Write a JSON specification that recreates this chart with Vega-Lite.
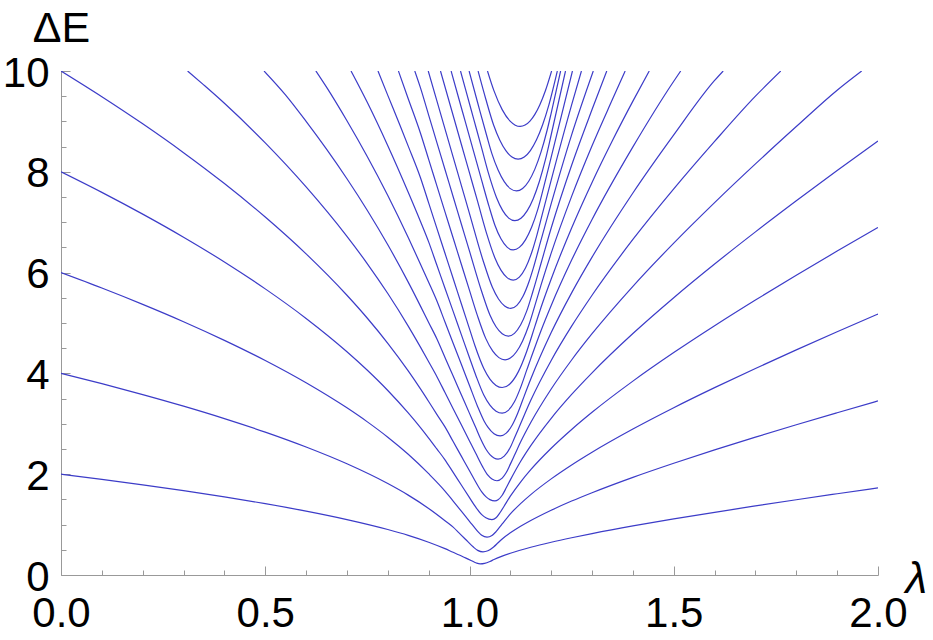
{
"$schema": "https://vega.github.io/schema/vega-lite/v6.json",
"width": 817, "height": 504,
"autosize": {"type": "none"},
"padding": {"left": 61, "top": 71, "right": 55, "bottom": 65},
"background": "white",
"config": {"view": {"stroke": null}},
"data": {"values": [
{"c":1,"x":0,"y":2},{"c":1,"x":0.1,"y":1.898},{"c":1,"x":0.2,"y":1.789},{"c":1,"x":0.3,"y":1.674},{"c":1,"x":0.4,"y":1.551},{"c":1,"x":0.5,"y":1.416},{"c":1,"x":0.6,"y":1.268},{"c":1,"x":0.7,"y":1.1},{"c":1,"x":0.8,"y":0.903},{"c":1,"x":0.85,"y":0.787},{"c":1,"x":0.9,"y":0.651},{"c":1,"x":0.94,"y":0.523},{"c":1,"x":0.96,"y":0.45},{"c":1,"x":0.975,"y":0.397},{"c":1,"x":0.99,"y":0.34},{"c":1,"x":1.005,"y":0.283},{"c":1,"x":1.017,"y":0.237},{"c":1,"x":1.026,"y":0.22},{"c":1,"x":1.037,"y":0.23},{"c":1,"x":1.05,"y":0.268},{"c":1,"x":1.06,"y":0.307},{"c":1,"x":1.08,"y":0.374},{"c":1,"x":1.1,"y":0.431},{"c":1,"x":1.15,"y":0.55},{"c":1,"x":1.2,"y":0.65},{"c":1,"x":1.25,"y":0.739},{"c":1,"x":1.3,"y":0.821},{"c":1,"x":1.4,"y":0.973},{"c":1,"x":1.5,"y":1.112},{"c":1,"x":1.6,"y":1.244},{"c":1,"x":1.7,"y":1.37},{"c":1,"x":1.8,"y":1.493},{"c":1,"x":1.9,"y":1.612},{"c":1,"x":2,"y":1.729},
{"c":2,"x":0,"y":4},{"c":2,"x":0.1,"y":3.796},{"c":2,"x":0.2,"y":3.58},{"c":2,"x":0.3,"y":3.35},{"c":2,"x":0.4,"y":3.103},{"c":2,"x":0.5,"y":2.835},{"c":2,"x":0.6,"y":2.539},{"c":2,"x":0.7,"y":2.206},{"c":2,"x":0.8,"y":1.814},{"c":2,"x":0.85,"y":1.585},{"c":2,"x":0.9,"y":1.321},{"c":2,"x":0.94,"y":1.078},{"c":2,"x":0.96,"y":0.95},{"c":2,"x":0.975,"y":0.83},{"c":2,"x":0.99,"y":0.71},{"c":2,"x":1.0095,"y":0.554},{"c":2,"x":1.02,"y":0.489},{"c":2,"x":1.033,"y":0.46},{"c":2,"x":1.045,"y":0.48},{"c":2,"x":1.059,"y":0.557},{"c":2,"x":1.07,"y":0.64},{"c":2,"x":1.08,"y":0.715},{"c":2,"x":1.1,"y":0.836},{"c":2,"x":1.125,"y":0.966},{"c":2,"x":1.15,"y":1.081},{"c":2,"x":1.2,"y":1.285},{"c":2,"x":1.25,"y":1.467},{"c":2,"x":1.3,"y":1.633},{"c":2,"x":1.4,"y":1.938},{"c":2,"x":1.5,"y":2.218},{"c":2,"x":1.6,"y":2.483},{"c":2,"x":1.7,"y":2.736},{"c":2,"x":1.8,"y":2.982},{"c":2,"x":1.9,"y":3.22},{"c":2,"x":2,"y":3.454},
{"c":3,"x":0,"y":6},{"c":3,"x":0.1,"y":5.694},{"c":3,"x":0.2,"y":5.37},{"c":3,"x":0.3,"y":5.026},{"c":3,"x":0.4,"y":4.656},{"c":3,"x":0.5,"y":4.256},{"c":3,"x":0.6,"y":3.814},{"c":3,"x":0.7,"y":3.316},{"c":3,"x":0.75,"y":3.038},{"c":3,"x":0.8,"y":2.734},{"c":3,"x":0.85,"y":2.395},{"c":3,"x":0.9,"y":2.01},{"c":3,"x":0.94,"y":1.666},{"c":3,"x":0.96,"y":1.466},{"c":3,"x":0.98,"y":1.266},{"c":3,"x":1,"y":1.066},{"c":3,"x":1.02,"y":0.866},{"c":3,"x":1.03,"y":0.787},{"c":3,"x":1.043,"y":0.75},{"c":3,"x":1.055,"y":0.784},{"c":3,"x":1.065,"y":0.86},{"c":3,"x":1.08,"y":1.013},{"c":3,"x":1.1,"y":1.213},{"c":3,"x":1.125,"y":1.416},{"c":3,"x":1.15,"y":1.595},{"c":3,"x":1.2,"y":1.907},{"c":3,"x":1.25,"y":2.183},{"c":3,"x":1.3,"y":2.436},{"c":3,"x":1.4,"y":2.896},{"c":3,"x":1.5,"y":3.319},{"c":3,"x":1.6,"y":3.717},{"c":3,"x":1.7,"y":4.098},{"c":3,"x":1.8,"y":4.467},{"c":3,"x":1.9,"y":4.825},{"c":3,"x":2,"y":5.177},
{"c":4,"x":0,"y":8},{"c":4,"x":0.1,"y":7.592},{"c":4,"x":0.2,"y":7.16},{"c":4,"x":0.3,"y":6.702},{"c":4,"x":0.4,"y":6.211},{"c":4,"x":0.5,"y":5.677},{"c":4,"x":0.6,"y":5.091},{"c":4,"x":0.7,"y":4.43},{"c":4,"x":0.75,"y":4.062},{"c":4,"x":0.8,"y":3.661},{"c":4,"x":0.85,"y":3.216},{"c":4,"x":0.88,"y":2.924},{"c":4,"x":0.9,"y":2.717},{"c":4,"x":0.92,"y":2.502},{"c":4,"x":0.94,"y":2.285},{"c":4,"x":0.96,"y":2.035},{"c":4,"x":0.98,"y":1.785},{"c":4,"x":1,"y":1.535},{"c":4,"x":1.015,"y":1.35},{"c":4,"x":1.03,"y":1.197},{"c":4,"x":1.04,"y":1.135},{"c":4,"x":1.055,"y":1.1},{"c":4,"x":1.065,"y":1.135},{"c":4,"x":1.075,"y":1.24},{"c":4,"x":1.085,"y":1.37},{"c":4,"x":1.1,"y":1.564},{"c":4,"x":1.125,"y":1.845},{"c":4,"x":1.15,"y":2.09},{"c":4,"x":1.2,"y":2.515},{"c":4,"x":1.25,"y":2.888},{"c":4,"x":1.3,"y":3.229},{"c":4,"x":1.4,"y":3.847},{"c":4,"x":1.5,"y":4.413},{"c":4,"x":1.6,"y":4.946},{"c":4,"x":1.7,"y":5.456},{"c":4,"x":1.8,"y":5.948},{"c":4,"x":1.9,"y":6.427},{"c":4,"x":2,"y":6.896},
{"c":5,"x":0,"y":10},{"c":5,"x":0.1,"y":9.49},{"c":5,"x":0.2,"y":8.952},{"c":5,"x":0.3,"y":8.38},{"c":5,"x":0.4,"y":7.767},{"c":5,"x":0.5,"y":7.102},{"c":5,"x":0.6,"y":6.371},{"c":5,"x":0.7,"y":5.55},{"c":5,"x":0.75,"y":5.094},{"c":5,"x":0.8,"y":4.597},{"c":5,"x":0.85,"y":4.05},{"c":5,"x":0.88,"y":3.693},{"c":5,"x":0.9,"y":3.443},{"c":5,"x":0.92,"y":3.187},{"c":5,"x":0.94,"y":2.938},{"c":5,"x":0.96,"y":2.648},{"c":5,"x":0.98,"y":2.358},{"c":5,"x":1,"y":2.068},{"c":5,"x":1.0205,"y":1.771},{"c":5,"x":1.03,"y":1.649},{"c":5,"x":1.04,"y":1.555},{"c":5,"x":1.05,"y":1.495},{"c":5,"x":1.062,"y":1.47},{"c":5,"x":1.07,"y":1.492},{"c":5,"x":1.08,"y":1.583},{"c":5,"x":1.09,"y":1.73},{"c":5,"x":1.1,"y":1.887},{"c":5,"x":1.125,"y":2.252},{"c":5,"x":1.15,"y":2.567},{"c":5,"x":1.2,"y":3.11},{"c":5,"x":1.25,"y":3.583},{"c":5,"x":1.3,"y":4.012},{"c":5,"x":1.4,"y":4.791},{"c":5,"x":1.5,"y":5.502},{"c":5,"x":1.6,"y":6.17},{"c":5,"x":1.7,"y":6.808},{"c":5,"x":1.8,"y":7.425},{"c":5,"x":1.9,"y":8.025},{"c":5,"x":2,"y":8.612},
{"c":6,"x":0.31,"y":10},{"c":6,"x":0.35,"y":9.72},{"c":6,"x":0.4,"y":9.36},{"c":6,"x":0.5,"y":8.573},{"c":6,"x":0.6,"y":7.699},{"c":6,"x":0.7,"y":6.718},{"c":6,"x":0.75,"y":6.175},{"c":6,"x":0.8,"y":5.585},{"c":6,"x":0.85,"y":4.939},{"c":6,"x":0.88,"y":4.521},{"c":6,"x":0.9,"y":4.232},{"c":6,"x":0.92,"y":3.94},{"c":6,"x":0.94,"y":3.62},{"c":6,"x":0.96,"y":3.3},{"c":6,"x":0.98,"y":2.98},{"c":6,"x":1,"y":2.66},{"c":6,"x":1.015,"y":2.42},{"c":6,"x":1.032,"y":2.15},{"c":6,"x":1.045,"y":1.98},{"c":6,"x":1.055,"y":1.903},{"c":6,"x":1.067,"y":1.87},{"c":6,"x":1.08,"y":1.922},{"c":6,"x":1.09,"y":2.033},{"c":6,"x":1.1,"y":2.2},{"c":6,"x":1.11,"y":2.374},{"c":6,"x":1.125,"y":2.637},{"c":6,"x":1.15,"y":3.025},{"c":6,"x":1.2,"y":3.69},{"c":6,"x":1.25,"y":4.266},{"c":6,"x":1.3,"y":4.787},{"c":6,"x":1.4,"y":5.728},{"c":6,"x":1.5,"y":6.585},{"c":6,"x":1.6,"y":7.389},{"c":6,"x":1.7,"y":8.157},{"c":6,"x":1.8,"y":8.898},{"c":6,"x":1.9,"y":9.619},{"c":6,"x":1.96,"y":10},
{"c":7,"x":0.497,"y":10},{"c":7,"x":0.55,"y":9.521},{"c":7,"x":0.6,"y":9.0},{"c":7,"x":0.65,"y":8.449},{"c":7,"x":0.7,"y":7.862},{"c":7,"x":0.75,"y":7.233},{"c":7,"x":0.8,"y":6.552},{"c":7,"x":0.85,"y":5.811},{"c":7,"x":0.88,"y":5.335},{"c":7,"x":0.9,"y":5.01},{"c":7,"x":0.92,"y":4.688},{"c":7,"x":0.94,"y":4.317},{"c":7,"x":0.96,"y":3.947},{"c":7,"x":0.98,"y":3.577},{"c":7,"x":1,"y":3.207},{"c":7,"x":1.015,"y":2.93},{"c":7,"x":1.028,"y":2.687},{"c":7,"x":1.04,"y":2.499},{"c":7,"x":1.05,"y":2.388},{"c":7,"x":1.06,"y":2.322},{"c":7,"x":1.07,"y":2.3},{"c":7,"x":1.085,"y":2.359},{"c":7,"x":1.1,"y":2.535},{"c":7,"x":1.11,"y":2.717},{"c":7,"x":1.125,"y":3.0},{"c":7,"x":1.15,"y":3.466},{"c":7,"x":1.2,"y":4.257},{"c":7,"x":1.25,"y":4.937},{"c":7,"x":1.3,"y":5.551},{"c":7,"x":1.4,"y":6.657},{"c":7,"x":1.5,"y":7.661},{"c":7,"x":1.6,"y":8.603},{"c":7,"x":1.7,"y":9.501},{"c":7,"x":1.762,"y":10},
{"c":8,"x":0.624,"y":10},{"c":8,"x":0.65,"y":9.68},{"c":8,"x":0.7,"y":9.013},{"c":8,"x":0.75,"y":8.3},{"c":8,"x":0.8,"y":7.53},{"c":8,"x":0.85,"y":6.696},{"c":8,"x":0.88,"y":6.167},{"c":8,"x":0.9,"y":5.808},{"c":8,"x":0.92,"y":5.44},{"c":8,"x":0.94,"y":5.02},{"c":8,"x":0.96,"y":4.6},{"c":8,"x":0.98,"y":4.18},{"c":8,"x":1,"y":3.76},{"c":8,"x":1.02,"y":3.34},{"c":8,"x":1.035,"y":3.067},{"c":8,"x":1.045,"y":2.933},{"c":8,"x":1.06,"y":2.803},{"c":8,"x":1.075,"y":2.76},{"c":8,"x":1.09,"y":2.815},{"c":8,"x":1.105,"y":2.982},{"c":8,"x":1.118,"y":3.21},{"c":8,"x":1.13,"y":3.467},{"c":8,"x":1.15,"y":3.888},{"c":8,"x":1.2,"y":4.81},{"c":8,"x":1.25,"y":5.598},{"c":8,"x":1.3,"y":6.307},{"c":8,"x":1.4,"y":7.579},{"c":8,"x":1.5,"y":8.732},{"c":8,"x":1.6,"y":9.812},{"c":8,"x":1.621,"y":10},
{"c":9,"x":0.71,"y":10},{"c":9,"x":0.75,"y":9.374},{"c":9,"x":0.8,"y":8.518},{"c":9,"x":0.85,"y":7.595},{"c":9,"x":0.88,"y":7.015},{"c":9,"x":0.9,"y":6.61},{"c":9,"x":0.92,"y":6.15},{"c":9,"x":0.94,"y":5.69},{"c":9,"x":0.96,"y":5.23},{"c":9,"x":0.98,"y":4.77},{"c":9,"x":1,"y":4.31},{"c":9,"x":1.016,"y":3.95},{"c":9,"x":1.035,"y":3.572},{"c":9,"x":1.05,"y":3.371},{"c":9,"x":1.065,"y":3.25},{"c":9,"x":1.08,"y":3.21},{"c":9,"x":1.095,"y":3.266},{"c":9,"x":1.11,"y":3.436},{"c":9,"x":1.125,"y":3.718},{"c":9,"x":1.14,"y":4.064},{"c":9,"x":1.15,"y":4.293},{"c":9,"x":1.175,"y":4.848},{"c":9,"x":1.2,"y":5.349},{"c":9,"x":1.25,"y":6.248},{"c":9,"x":1.3,"y":7.053},{"c":9,"x":1.4,"y":8.494},{"c":9,"x":1.5,"y":9.797},{"c":9,"x":1.517,"y":10},
{"c":10,"x":0.776,"y":10},{"c":10,"x":0.8,"y":9.516},{"c":10,"x":0.83,"y":8.919},{"c":10,"x":0.85,"y":8.509},{"c":10,"x":0.88,"y":7.882},{"c":10,"x":0.9,"y":7.383},{"c":10,"x":0.92,"y":6.883},{"c":10,"x":0.94,"y":6.383},{"c":10,"x":0.96,"y":5.883},{"c":10,"x":0.98,"y":5.383},{"c":10,"x":1,"y":4.883},{"c":10,"x":1.013,"y":4.558},{"c":10,"x":1.035,"y":4.098},{"c":10,"x":1.05,"y":3.888},{"c":10,"x":1.065,"y":3.762},{"c":10,"x":1.08,"y":3.72},{"c":10,"x":1.1,"y":3.8},{"c":10,"x":1.12,"y":4.04},{"c":10,"x":1.14,"y":4.435},{"c":10,"x":1.16,"y":4.933},{"c":10,"x":1.175,"y":5.308},{"c":10,"x":1.2,"y":5.874},{"c":10,"x":1.25,"y":6.886},{"c":10,"x":1.3,"y":7.79},{"c":10,"x":1.35,"y":8.621},{"c":10,"x":1.4,"y":9.402},{"c":10,"x":1.44,"y":10},
{"c":11,"x":0.826,"y":10},{"c":11,"x":0.85,"y":9.45},{"c":11,"x":0.88,"y":8.765},{"c":11,"x":0.9,"y":8.246},{"c":11,"x":0.92,"y":7.726},{"c":11,"x":0.94,"y":7.206},{"c":11,"x":0.96,"y":6.686},{"c":11,"x":0.98,"y":6.166},{"c":11,"x":1,"y":5.646},{"c":11,"x":1.019,"y":5.157},{"c":11,"x":1.04,"y":4.69},{"c":11,"x":1.057,"y":4.441},{"c":11,"x":1.072,"y":4.313},{"c":11,"x":1.087,"y":4.27},{"c":11,"x":1.1,"y":4.304},{"c":11,"x":1.115,"y":4.43},{"c":11,"x":1.13,"y":4.645},{"c":11,"x":1.145,"y":4.95},{"c":11,"x":1.16,"y":5.344},{"c":11,"x":1.175,"y":5.75},{"c":11,"x":1.2,"y":6.386},{"c":11,"x":1.25,"y":7.513},{"c":11,"x":1.3,"y":8.517},{"c":11,"x":1.35,"y":9.438},{"c":11,"x":1.381,"y":10},
{"c":12,"x":0.866,"y":10},{"c":12,"x":0.88,"y":9.665},{"c":12,"x":0.9,"y":9.125},{"c":12,"x":0.92,"y":8.585},{"c":12,"x":0.94,"y":8.045},{"c":12,"x":0.96,"y":7.505},{"c":12,"x":0.98,"y":6.965},{"c":12,"x":1,"y":6.425},{"c":12,"x":1.03,"y":5.62},{"c":12,"x":1.05,"y":5.159},{"c":12,"x":1.065,"y":4.926},{"c":12,"x":1.08,"y":4.787},{"c":12,"x":1.095,"y":4.74},{"c":12,"x":1.11,"y":4.795},{"c":12,"x":1.125,"y":4.96},{"c":12,"x":1.14,"y":5.236},{"c":12,"x":1.155,"y":5.62},{"c":12,"x":1.175,"y":6.18},{"c":12,"x":1.2,"y":6.884},{"c":12,"x":1.25,"y":8.13},{"c":12,"x":1.3,"y":9.235},{"c":12,"x":1.336,"y":10},
{"c":13,"x":0.899,"y":10},{"c":13,"x":0.92,"y":9.411},{"c":13,"x":0.94,"y":8.851},{"c":13,"x":0.96,"y":8.291},{"c":13,"x":0.98,"y":7.731},{"c":13,"x":1,"y":7.171},{"c":13,"x":1.0334,"y":6.236},{"c":13,"x":1.056,"y":5.709},{"c":13,"x":1.071,"y":5.476},{"c":13,"x":1.086,"y":5.337},{"c":13,"x":1.101,"y":5.29},{"c":13,"x":1.116,"y":5.35},{"c":13,"x":1.131,"y":5.529},{"c":13,"x":1.146,"y":5.827},{"c":13,"x":1.156,"y":6.083},{"c":13,"x":1.175,"y":6.643},{"c":13,"x":1.2,"y":7.368},{"c":13,"x":1.25,"y":8.734},{"c":13,"x":1.303,"y":10},
{"c":14,"x":0.929,"y":10},{"c":14,"x":0.96,"y":9.117},{"c":14,"x":0.98,"y":8.547},{"c":14,"x":1,"y":7.977},{"c":14,"x":1.02,"y":7.407},{"c":14,"x":1.042,"y":6.774},{"c":14,"x":1.062,"y":6.296},{"c":14,"x":1.077,"y":6.048},{"c":14,"x":1.092,"y":5.9},{"c":14,"x":1.107,"y":5.85},{"c":14,"x":1.122,"y":5.91},{"c":14,"x":1.137,"y":6.091},{"c":14,"x":1.152,"y":6.393},{"c":14,"x":1.165,"y":6.745},{"c":14,"x":1.18,"y":7.216},{"c":14,"x":1.2,"y":7.836},{"c":14,"x":1.25,"y":9.328},{"c":14,"x":1.274,"y":10},
{"c":15,"x":0.955,"y":10},{"c":15,"x":0.97,"y":9.564},{"c":15,"x":0.99,"y":8.984},{"c":15,"x":1.01,"y":8.404},{"c":15,"x":1.03,"y":7.824},{"c":15,"x":1.048,"y":7.308},{"c":15,"x":1.062,"y":6.946},{"c":15,"x":1.077,"y":6.67},{"c":15,"x":1.092,"y":6.505},{"c":15,"x":1.107,"y":6.45},{"c":15,"x":1.122,"y":6.5},{"c":15,"x":1.137,"y":6.65},{"c":15,"x":1.152,"y":6.9},{"c":15,"x":1.167,"y":7.249},{"c":15,"x":1.181,"y":7.675},{"c":15,"x":1.2,"y":8.292},{"c":15,"x":1.252,"y":10},
{"c":16,"x":0.978,"y":10},{"c":16,"x":0.99,"y":9.645},{"c":16,"x":1.01,"y":9.055},{"c":16,"x":1.03,"y":8.465},{"c":16,"x":1.046,"y":7.984},{"c":16,"x":1.066,"y":7.492},{"c":16,"x":1.081,"y":7.235},{"c":16,"x":1.096,"y":7.081},{"c":16,"x":1.111,"y":7.03},{"c":16,"x":1.126,"y":7.079},{"c":16,"x":1.141,"y":7.224},{"c":16,"x":1.156,"y":7.467},{"c":16,"x":1.171,"y":7.808},{"c":16,"x":1.186,"y":8.245},{"c":16,"x":1.2,"y":8.735},{"c":16,"x":1.235,"y":10},
{"c":17,"x":0.999,"y":10},{"c":17,"x":1.02,"y":9.37},{"c":17,"x":1.042,"y":8.72},{"c":17,"x":1.055,"y":8.356},{"c":17,"x":1.07,"y":8.034},{"c":17,"x":1.085,"y":7.804},{"c":17,"x":1.1,"y":7.666},{"c":17,"x":1.115,"y":7.62},{"c":17,"x":1.13,"y":7.668},{"c":17,"x":1.145,"y":7.813},{"c":17,"x":1.16,"y":8.053},{"c":17,"x":1.175,"y":8.39},{"c":17,"x":1.19,"y":8.824},{"c":17,"x":1.2,"y":9.166},{"c":17,"x":1.223,"y":10},
{"c":18,"x":1.021,"y":10},{"c":18,"x":1.04,"y":9.44},{"c":18,"x":1.059,"y":8.93},{"c":18,"x":1.074,"y":8.633},{"c":18,"x":1.089,"y":8.42},{"c":18,"x":1.104,"y":8.293},{"c":18,"x":1.119,"y":8.25},{"c":18,"x":1.134,"y":8.293},{"c":18,"x":1.149,"y":8.421},{"c":18,"x":1.164,"y":8.635},{"c":18,"x":1.179,"y":8.934},{"c":18,"x":1.194,"y":9.319},{"c":18,"x":1.215,"y":10},
{"c":19,"x":1.044,"y":10},{"c":19,"x":1.06,"y":9.605},{"c":19,"x":1.08,"y":9.233},{"c":19,"x":1.1,"y":8.999},{"c":19,"x":1.112,"y":8.925},{"c":19,"x":1.124,"y":8.9},{"c":19,"x":1.136,"y":8.927},{"c":19,"x":1.148,"y":9.007},{"c":19,"x":1.16,"y":9.14},{"c":19,"x":1.172,"y":9.327},{"c":19,"x":1.186,"y":9.613},{"c":19,"x":1.201,"y":10}
]},
"mark": {"type": "line", "interpolate": "monotone", "color": "#3c3cc8", "strokeWidth": 1.2, "clip": true},
"encoding": {
  "x": {"field": "x", "type": "quantitative",
    "scale": {"domain": [0, 2], "nice": false, "zero": false},
    "axis": {
      "values": [0,0.1,0.2,0.3,0.4,0.5,0.6,0.7,0.8,0.9,1,1.1,1.2,1.3,1.4,1.5,1.6,1.7,1.8,1.9,2],
      "labelExpr": "abs(datum.value*2 - round(datum.value*2)) < 0.001 ? format(datum.value, '.1f') : ''",
      "tickSize": {"condition": {"test": "abs(datum.value*2 - round(datum.value*2)) < 0.001", "value": -9}, "value": -5},
      "labelPadding": 27,
      "labelFont": "Liberation Sans", "labelFontSize": 42, "labelColor": "#000000",
      "labelFlush": false, "labelOverlap": false, "labelBound": false,
      "grid": false, "domainColor": "#999999", "tickColor": "#999999", "domainWidth": 1, "tickWidth": 1,
      "title": "λ", "titleFont": "Liberation Sans", "titleFontStyle": "italic", "titleFontWeight": "normal",
      "titleFontSize": 44, "titleColor": "#000000", "titleAlign": "left", "titleBaseline": "alphabetic",
      "titleX": 844, "titleY": 17, "titleAngle": 0
    }},
  "y": {"field": "y", "type": "quantitative",
    "scale": {"domain": [0, 10], "nice": false, "zero": false},
    "axis": {
      "values": [0,0.5,1,1.5,2,2.5,3,3.5,4,4.5,5,5.5,6,6.5,7,7.5,8,8.5,9,9.5,10],
      "labelExpr": "datum.value % 2 == 0 ? format(datum.value, 'd') : ''",
      "tickSize": {"condition": {"test": "datum.value % 2 == 0", "value": -9}, "value": -5},
      "labelPadding": 21, "labelOffset": 2,
      "labelFont": "Liberation Sans", "labelFontSize": 42, "labelColor": "#000000",
      "labelFlush": false, "labelOverlap": false, "labelBound": false,
      "grid": false, "domainColor": "#999999", "tickColor": "#999999", "domainWidth": 1, "tickWidth": 1,
      "title": "ΔE", "titleFont": "Liberation Sans", "titleFontWeight": "normal",
      "titleFontSize": 43, "titleColor": "#000000", "titleAlign": "center", "titleBaseline": "alphabetic",
      "titleX": 0, "titleY": -30, "titleAngle": 0
    }},
  "detail": {"field": "c", "type": "nominal"}
}
}
